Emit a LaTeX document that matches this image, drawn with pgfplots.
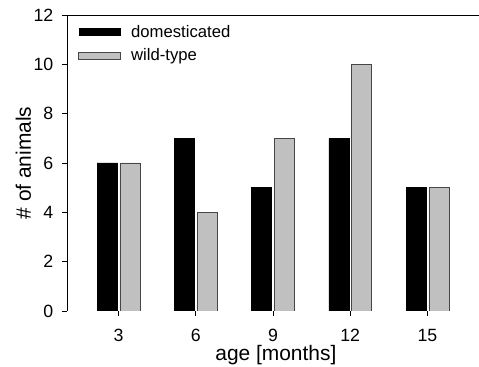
\documentclass[border=0pt]{standalone}
\usepackage{pgfplots}
\pgfplotsset{compat=1.18}
\usepackage{fontspec}
\setmainfont{Liberation Sans}
\definecolor{wildgray}{RGB}{192,192,192}
\definecolor{edgegray}{RGB}{70,70,70}
\begin{document}
\begin{tikzpicture}
\begin{axis}[
  scale only axis,
  width=309pt, height=222pt,
  xmin=1, xmax=17, ymin=0, ymax=12,
  xtick={3,6,9,12,15},
  ytick={0,2,4,6,8,10,12},
  xtick pos=left, ytick pos=left,
  tick align=outside,
  major tick length=3.75pt,
  tick style={black, line width=0.6pt},
  axis line style={draw=none},
  /pgf/number format/assume math mode=true,
  tick label style={font=\fontsize{13.3}{15}\selectfont},
  xticklabel style={inner sep=0.5pt, text depth=0pt, yshift=-9pt},
  yticklabel style={xshift=-3pt},
  xlabel={age [months]},
  ylabel={\# of animals},
  label style={font=\fontsize{15.7}{18}\selectfont},
  xlabel style={at={(axis description cs:0.507,-0.149)}, anchor=center, inner sep=0.5pt},
  ylabel style={at={(axis description cs:-0.106,0.5)}, anchor=center, rotate=0},
  ybar, bar width=15pt,
  legend style={at={(axis description cs:0.027,0.976)}, anchor=north west,
    draw=none, fill=none, font=\fontsize{12.5}{14}\selectfont,
    row sep=3pt, inner sep=0pt, cells={anchor=west}},
  legend image code/.code={\draw[#1] (0pt,-2.6pt) rectangle (31pt,2.6pt); \path (37pt,0pt);},
]
\addplot[fill=black, draw=black, bar shift=-8.6pt] coordinates {(3,6) (6,7) (9,5) (12,7) (15,5)};
\addplot[fill=wildgray, draw=edgegray, line width=0.6pt, bar shift=8.6pt] coordinates {(3,6) (6,4) (9,7) (12,10) (15,5)};
\legend{domesticated, wild-type}
\draw[black, line width=0.6pt] (rel axis cs:0,1) -- (rel axis cs:0,0) -- (rel axis cs:1,0);
\draw[black, line width=0.6pt] (rel axis cs:0,1) -- (rel axis cs:1,1);
\end{axis}
\pgfresetboundingbox
\path[use as bounding box] (-50.25pt,-42pt) rectangle (309pt,233.25pt);
\end{tikzpicture}
\end{document}
